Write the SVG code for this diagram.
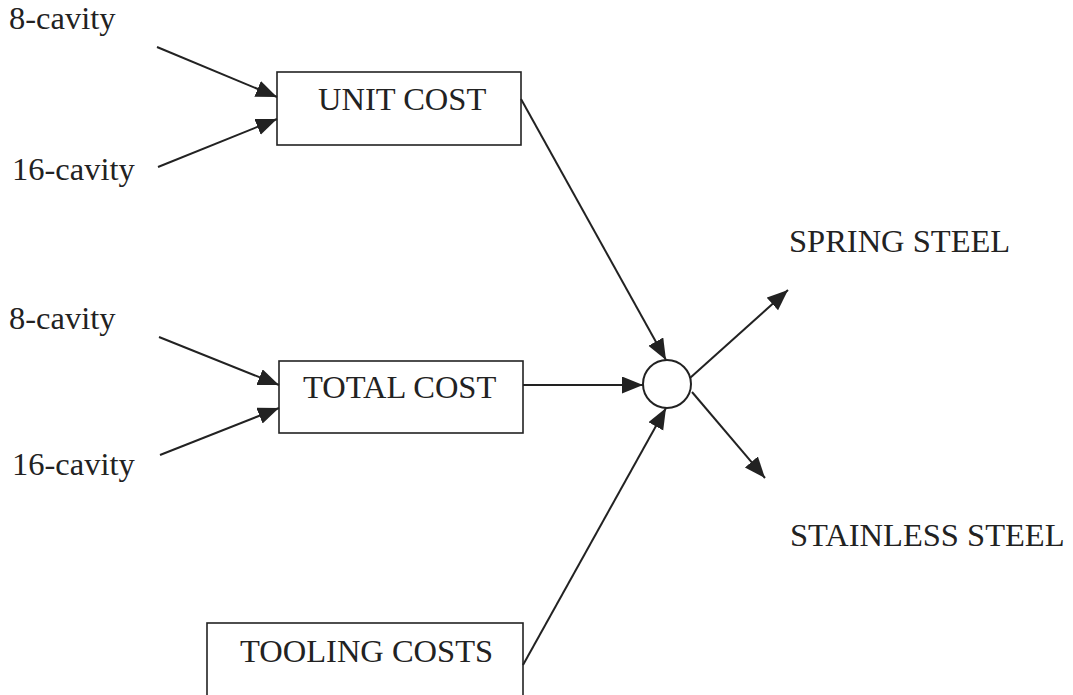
<svg xmlns="http://www.w3.org/2000/svg" width="1073" height="695" viewBox="0 0 1073 695">
<style>
text{font-family:"Liberation Serif","Times New Roman",serif;font-size:32.5px;fill:#222}
.box{fill:#fff;stroke:#222;stroke-width:1.6}
.c line{stroke:#222;stroke-width:2}
</style>
<defs>
<marker id="ah" markerUnits="userSpaceOnUse" markerWidth="22" markerHeight="18" refX="21" refY="8.5" orient="auto">
<path d="M0,0 L21,8.5 L0,17 z" fill="#222"/>
</marker>
</defs>
<rect width="1073" height="695" fill="#fff"/>
<g id="labels">
<text x="9" y="29">8-cavity</text>
<text x="12" y="180">16-cavity</text>
<text x="9" y="329">8-cavity</text>
<text x="12" y="475">16-cavity</text>
</g>
<g id="unit-cost"><rect class="box" x="277" y="72" width="244" height="73"/><text x="318" y="110">UNIT COST</text></g>
<g id="total-cost"><rect class="box" x="279" y="361" width="244" height="72"/><text x="303" y="398">TOTAL COST</text></g>
<g id="tooling-costs"><rect class="box" x="207" y="623" width="316" height="80"/><text x="240" y="662">TOOLING COSTS</text></g>
<g id="junction"><circle cx="667" cy="384" r="24" fill="#fff" stroke="#222" stroke-width="2"/></g>
<g id="spring-steel"><text x="789" y="252">SPRING STEEL</text></g>
<g id="stainless-steel"><text x="790" y="546">STAINLESS STEEL</text></g>
<g class="c" id="connectors">
<line x1="157" y1="47" x2="277" y2="97" marker-end="url(#ah)"/>
<line x1="158" y1="167" x2="277" y2="119" marker-end="url(#ah)"/>
<line x1="159" y1="337" x2="279" y2="385" marker-end="url(#ah)"/>
<line x1="160" y1="455" x2="279" y2="408" marker-end="url(#ah)"/>
<line x1="521" y1="99" x2="666" y2="360" marker-end="url(#ah)"/>
<line x1="523" y1="385" x2="643" y2="385" marker-end="url(#ah)"/>
<line x1="523" y1="665" x2="666" y2="408" marker-end="url(#ah)"/>
<line x1="690" y1="378" x2="788" y2="290" marker-end="url(#ah)"/>
<line x1="692" y1="392" x2="765" y2="478" marker-end="url(#ah)"/>
</g>
</svg>
